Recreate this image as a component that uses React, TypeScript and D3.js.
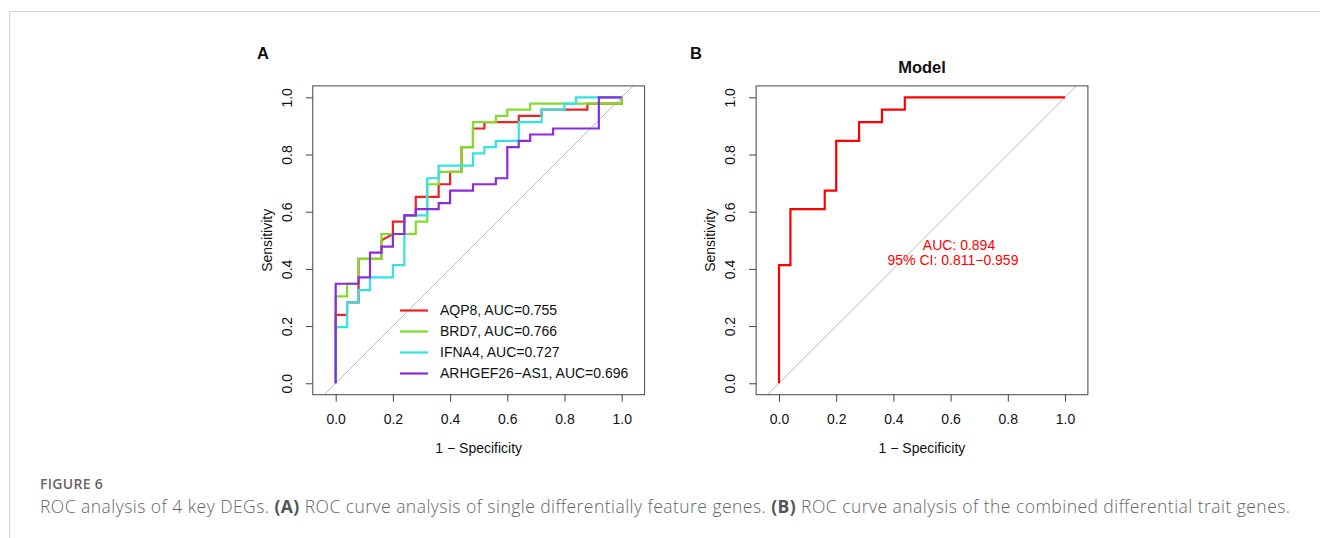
import React, { useEffect, useRef } from 'react';
import * as d3 from 'd3';

// ROC coordinates (1 - specificity, sensitivity)
const aqp8Fpr = [0, 0, 0.04, 0.04, 0.08, 0.08, 0.16, 0.16, 0.2, 0.2, 0.24, 0.24, 0.28, 0.28, 0.36, 0.36, 0.4, 0.4, 0.44, 0.44, 0.48, 0.48, 0.52, 0.52, 0.64, 0.64, 0.72, 0.72, 0.88, 0.88, 1, 1];
const aqp8Tpr = [0, 0.239, 0.239, 0.283, 0.283, 0.435, 0.435, 0.5, 0.522, 0.565, 0.565, 0.587, 0.587, 0.652, 0.652, 0.696, 0.696, 0.739, 0.739, 0.826, 0.826, 0.891, 0.891, 0.913, 0.913, 0.935, 0.935, 0.957, 0.957, 0.978, 0.978, 1];

const brd7Fpr = [0, 0, 0.04, 0.04, 0.08, 0.08, 0.16, 0.16, 0.28, 0.28, 0.32, 0.32, 0.36, 0.36, 0.44, 0.44, 0.48, 0.48, 0.56, 0.56, 0.6, 0.6, 0.68, 0.68, 1, 1];
const brd7Tpr = [0, 0.304, 0.304, 0.348, 0.348, 0.435, 0.435, 0.522, 0.522, 0.565, 0.565, 0.696, 0.696, 0.739, 0.739, 0.826, 0.826, 0.913, 0.913, 0.935, 0.935, 0.957, 0.957, 0.978, 0.978, 1];

const ifna4Fpr = [0, 0, 0.04, 0.04, 0.08, 0.08, 0.12, 0.12, 0.2, 0.2, 0.24, 0.24, 0.32, 0.32, 0.36, 0.36, 0.48, 0.48, 0.52, 0.52, 0.56, 0.56, 0.64, 0.64, 0.72, 0.72, 0.8, 0.8, 0.84, 0.84, 1];
const ifna4Tpr = [0, 0.196, 0.196, 0.283, 0.283, 0.326, 0.326, 0.37, 0.37, 0.413, 0.413, 0.587, 0.587, 0.717, 0.717, 0.761, 0.761, 0.804, 0.804, 0.826, 0.826, 0.848, 0.848, 0.913, 0.913, 0.957, 0.957, 0.978, 0.978, 1, 1];

const arhgefFpr = [0, 0, 0.08, 0.08, 0.12, 0.12, 0.16, 0.16, 0.2, 0.2, 0.24, 0.24, 0.28, 0.28, 0.36, 0.36, 0.4, 0.4, 0.48, 0.48, 0.56, 0.56, 0.6, 0.6, 0.64, 0.64, 0.68, 0.68, 0.76, 0.76, 0.92, 0.92, 1];
const arhgefTpr = [0, 0.348, 0.348, 0.37, 0.37, 0.457, 0.457, 0.478, 0.478, 0.522, 0.522, 0.587, 0.587, 0.609, 0.609, 0.63, 0.63, 0.674, 0.674, 0.696, 0.696, 0.717, 0.717, 0.826, 0.826, 0.848, 0.848, 0.87, 0.87, 0.891, 0.891, 1, 1];

const modelFpr = [0, 0, 0.04, 0.04, 0.16, 0.16, 0.2, 0.2, 0.28, 0.28, 0.36, 0.36, 0.44, 0.44, 1];
const modelTpr = [0, 0.413, 0.413, 0.609, 0.609, 0.674, 0.674, 0.848, 0.848, 0.913, 0.913, 0.957, 0.957, 1, 1];

const geneNames = ['AQP8', 'BRD7', 'IFNA4', 'ARHGEF26\u2212AS1'];
const geneAuc = ['0.755', '0.766', '0.727', '0.696'];
const geneColors = ['#ee2222', '#80dd2a', '#33e3e3', '#8a2be2'];
const tickValues = [0, 0.2, 0.4, 0.6, 0.8, 1];

const FONT = '"Liberation Sans", Arial, sans-serif';

function drawPanel(g, x0, title) {
  const x = d3.scaleLinear().domain([-0.08, 1.08]).range([x0, x0 + 331.8]);
  const y = d3.scaleLinear().domain([-0.04, 1.04]).range([394.7, 85.9]);

  // diagonal reference
  g.append('line')
    .attr('x1', x(-0.04)).attr('y1', y(-0.04))
    .attr('x2', x(1.04)).attr('y2', y(1.04))
    .attr('stroke', '#bdbdbd').attr('stroke-width', 1);

  // x axis
  const xa = g.append('g').attr('transform', `translate(0, ${y(-0.04)})`)
    .call(d3.axisBottom(x).tickValues(tickValues).tickFormat(d3.format('.1f')).tickSize(7).tickPadding(12));
  xa.select('.domain').remove();
  xa.selectAll('line').attr('stroke', '#444');
  xa.selectAll('text').attr('font-size', 14).attr('font-family', FONT).attr('fill', '#111');

  // y axis, labels parallel to axis as in R
  const ya = g.append('g').attr('transform', `translate(${x(-0.08)}, 0)`)
    .call(d3.axisLeft(y).tickValues(tickValues).tickFormat(d3.format('.1f')).tickSize(7));
  ya.select('.domain').remove();
  ya.selectAll('line').attr('stroke', '#444');
  ya.selectAll('text').text('');
  ya.selectAll('.tick').append('text')
    .attr('transform', 'translate(-26, 0) rotate(-90)')
    .attr('text-anchor', 'middle').attr('dy', '0.35em')
    .attr('font-size', 14).attr('font-family', FONT).attr('fill', '#111')
    .text(d => d3.format('.1f')(d));

  g.append('rect')
    .attr('x', x(-0.08)).attr('y', y(1.04))
    .attr('width', x(1.08) - x(-0.08)).attr('height', y(-0.04) - y(1.04))
    .attr('fill', 'none').attr('stroke', '#444').attr('stroke-width', 1);

  g.append('text').text('1 \u2212 Specificity')
    .attr('x', x(0.5)).attr('y', 453)
    .attr('text-anchor', 'middle').attr('font-size', 14).attr('font-family', FONT).attr('fill', '#111');

  g.append('text').text('Sensitivity')
    .attr('transform', `translate(${x(-0.08) - 46}, ${y(0.5)}) rotate(-90)`)
    .attr('text-anchor', 'middle').attr('dy', '0.35em')
    .attr('font-size', 14).attr('font-family', FONT).attr('fill', '#111');

  if (title) {
    g.append('text').text(title)
      .attr('x', x(0.5)).attr('y', 73)
      .attr('text-anchor', 'middle').attr('font-size', 16.5).attr('font-weight', 'bold')
      .attr('font-family', FONT).attr('fill', '#111');
  }
  return { x, y };
}

function drawCurve(g, x, y, fpr, tpr, color) {
  const pts = fpr.map((f, i) => [f, tpr[i]]);
  const line = d3.line().x(d => x(d[0])).y(d => y(d[1]));
  g.append('path').datum(pts)
    .attr('d', line)
    .attr('fill', 'none').attr('stroke', color).attr('stroke-width', 2.2)
    .attr('stroke-linejoin', 'miter');
}

export default function App() {
  const ref = useRef(null);

  useEffect(() => {
    const svg = d3.select(ref.current);
    svg.selectAll('*').remove();

    // page frame
    svg.append('line').attr('x1', 9.5).attr('y1', 11.5).attr('x2', 1320).attr('y2', 11.5)
      .attr('stroke', '#d4d4d4').attr('stroke-width', 1);
    svg.append('line').attr('x1', 9.5).attr('y1', 11.5).attr('x2', 9.5).attr('y2', 538)
      .attr('stroke', '#d4d4d4').attr('stroke-width', 1);

    // panel A
    const gA = svg.append('g');
    const a = drawPanel(gA, 312.8, null);
    const curves = [
      [aqp8Fpr, aqp8Tpr],
      [brd7Fpr, brd7Tpr],
      [ifna4Fpr, ifna4Tpr],
      [arhgefFpr, arhgefTpr],
    ];
    curves.forEach((c, i) => drawCurve(gA, a.x, a.y, c[0], c[1], geneColors[i]));

    const legend = gA.append('g');
    geneNames.forEach((name, i) => {
      const ly = 310.5 + i * 21;
      legend.append('line').attr('x1', 400).attr('x2', 428).attr('y1', ly).attr('y2', ly)
        .attr('stroke', geneColors[i]).attr('stroke-width', 2.2);
      legend.append('text').text(`${name}, AUC=${geneAuc[i]}`)
        .attr('x', 440).attr('y', ly).attr('dy', '0.35em')
        .attr('font-size', 14).attr('font-family', FONT).attr('fill', '#111');
    });

    svg.append('text').text('A').attr('x', 263).attr('y', 59)
      .attr('text-anchor', 'middle').attr('font-size', 16.5).attr('font-weight', 'bold')
      .attr('font-family', FONT).attr('fill', '#111');

    // panel B
    const gB = svg.append('g');
    const b = drawPanel(gB, 756.1, 'Model');
    drawCurve(gB, b.x, b.y, modelFpr, modelTpr, '#ff0000');
    gB.append('text').text('AUC: 0.894').attr('x', 959).attr('y', 245).attr('dy', '0.35em')
      .attr('text-anchor', 'middle').attr('font-size', 14).attr('font-family', FONT).attr('fill', '#ff0000');
    gB.append('text').text('95% CI: 0.811\u22120.959').attr('x', 953).attr('y', 260).attr('dy', '0.35em')
      .attr('text-anchor', 'middle').attr('font-size', 14).attr('font-family', FONT).attr('fill', '#ff0000');

    svg.append('text').text('B').attr('x', 696).attr('y', 59)
      .attr('text-anchor', 'middle').attr('font-size', 16.5).attr('font-weight', 'bold')
      .attr('font-family', FONT).attr('fill', '#111');

    // caption
    const cap = '"Open Sans", "Noto Sans", sans-serif';
    svg.append('text').text('FIGURE 6').attr('x', 40).attr('y', 489)
      .attr('font-size', 14).attr('letter-spacing', 0.3).attr('font-weight', 600)
      .attr('font-family', cap).attr('fill', '#666');
    const t = svg.append('text').attr('x', 40).attr('y', 513)
      .attr('textLength', 1250).attr('lengthAdjust', 'spacing')
      .attr('font-size', 17.5).attr('font-weight', 300).attr('font-family', cap).attr('fill', '#666');
    t.append('tspan').text('ROC analysis of 4 key DEGs. ');
    t.append('tspan').text('(A)').attr('font-weight', 700).attr('fill', '#555');
    t.append('tspan').text(' ROC curve analysis of single differentially feature genes. ');
    t.append('tspan').text('(B)').attr('font-weight', 700).attr('fill', '#555');
    t.append('tspan').text(' ROC curve analysis of the combined differential trait genes.');
  }, []);

  return (
    <svg ref={ref} width={1320} height={538}
      style={{ position: 'absolute', left: 0, top: 0, background: '#fff' }} />
  );
}
